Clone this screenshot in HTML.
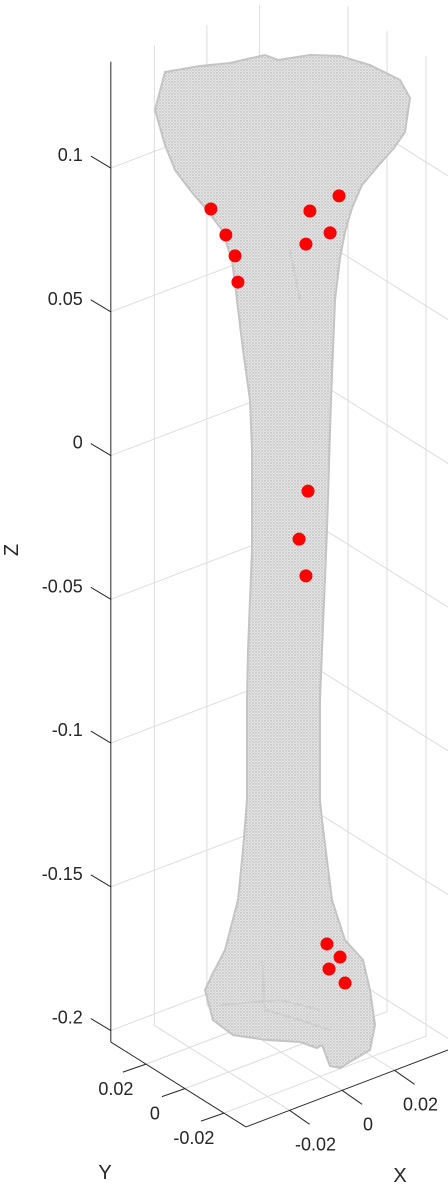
<!DOCTYPE html>
<html><head><meta charset="utf-8">
<style>
html,body{margin:0;padding:0;background:#fff;width:448px;height:1186px;overflow:hidden}
svg{display:block;font-family:"Liberation Sans",sans-serif}
</style></head>
<body>
<svg id="chart" width="448" height="1186" viewBox="0 0 448 1186" xmlns="http://www.w3.org/2000/svg">
<defs>
<pattern id="dots" width="3" height="3" patternUnits="userSpaceOnUse">
<rect width="3" height="3" fill="#e6e6e6"/>
<circle cx="1" cy="1" r="0.7" fill="#a8a8a8"/>
<circle cx="2.5" cy="2.4" r="0.45" fill="#bdbdbd"/>
</pattern>
</defs>
<g id="grid"></g>
<path fill="url(#dots)" stroke="#c4c4c4" stroke-width="2"
d="M165,72 L200,66 L230,63 L265,55 L278,60 L310,55 L340,56 L370,65 L400,80 L410,98 L405,132 L394,148 L378,166 L362,185 L352,208 L345,232 L340,258 L335,300 L331,400 L327,530 L322,650 L320,700 L320,800 L322,820 L332,900 L345,940 L363,960 L370,990 L375,1025 L370,1050 L353,1060 L340,1068 L330,1066 L322,1045 L317,1048 L300,1042 L267,1040 L233,1035 L213,1020 L205,990 L212,975 L225,950 L238,900 L243,850 L247,800 L247,700 L248,650 L252,550 L252,450 L250,400 L243,350 L237,300 L232,260 L222,230 L207,210 L190,190 L175,170 L165,145 L155,110 Z"/>
<path fill="none" stroke="#cfcfcf" stroke-width="2" d="M290,250 L300,300 M262,960 L265,1010 L300,1020 L330,1030 M220,1005 L280,1000 L320,1010"/>
<g id="markers"></g>
<g id="axes"></g>
</svg>
<script>
const zTicks=[0.1,0.05,0,-0.05,-0.1,-0.15,-0.2];
const zTickLabels=["0.1","0.05","0","-0.05","-0.1","-0.15","-0.2"];
const xTicks=[-0.02,0,0.02];
const xTickLabels=["-0.02","0","0.02"];
const yTicks=[0.02,0,-0.02];
const yTickLabels=["0.02","0","-0.02"];
const markerX=[-0.0267,-0.0210,-0.0175,-0.0164,0.0110,0.0221,0.0187,0.0095,0.0103,0.0069,0.0095,0.0175,0.0225,0.0183,0.0244];
const markerY=[0,0,0,0,0,0,0,0,0,0,0,0,0,0,0];
const markerZ=[0.0985,0.0875,0.079,0.0695,0.0847,0.0861,0.0744,0.0737,-0.0125,-0.0280,-0.0417,-0.1725,-0.1788,-0.1815,-0.1885];

const XMIN=-0.0366,XMAX=0.0404,YMIN=-0.0313,YMAX=0.038,ZMIN=-0.204,ZMAX=0.137;
function P(x,y,z){return [281+2625*x-1950*y, 1052-1000*x-1225*y-2875*(z-ZMIN)];}
const NS="http://www.w3.org/2000/svg";
function mk(tag,attrs,parent){const e=document.createElementNS(NS,tag);for(const k in attrs)e.setAttribute(k,attrs[k]);parent.appendChild(e);return e;}
function line(a,b,stroke,w,parent,name){const l=mk('line',{x1:a[0],y1:a[1],x2:b[0],y2:b[1],stroke:stroke,'stroke-width':w},parent);


return l;}
function text(x,y,s,anchor,parent,name,size){const t=mk('text',{x:x,y:y,'text-anchor':anchor,'dominant-baseline':'central','font-size':size||18,fill:'#262626'},parent);t.textContent=s;


return t;}
const grid=document.getElementById('grid');
const G='#dcdcdc';
zTicks.forEach(z=>{
  line(P(XMIN,YMAX,z),P(XMAX,YMAX,z),G,1,grid,'z-gridline-back');
  line(P(XMAX,YMAX,z),P(XMAX,YMIN,z),G,1,grid,'z-gridline-side');
});
xTicks.forEach(x=>{
  line(P(x,YMAX,ZMIN),P(x,YMAX,ZMAX),G,1,grid,'x-gridline-wall');
  line(P(x,YMIN,ZMIN),P(x,YMAX,ZMIN),G,1,grid,'x-gridline-floor');
});
yTicks.forEach(y=>{
  line(P(XMAX,y,ZMIN),P(XMAX,y,ZMAX),G,1,grid,'y-gridline-wall');
  line(P(XMIN,y,ZMIN),P(XMAX,y,ZMIN),G,1,grid,'y-gridline-floor');
});
const mg=document.getElementById('markers');
markerX.forEach((x,i)=>{const p=P(x,markerY[i],markerZ[i]);
  const c=mk('circle',{cx:p[0],cy:p[1],r:6.5,fill:'#ff0000'},mg);
  
  
});
const ax=document.getElementById('axes');
const K='#262626';
line(P(XMIN,YMAX,ZMIN),P(XMIN,YMAX,ZMAX),K,1,ax,'z-axis-line');
line(P(XMIN,YMAX,ZMIN),P(XMIN,YMIN,ZMIN),K,1,ax,'y-axis-line');
line(P(XMIN,YMIN,ZMIN),P(XMAX,YMIN,ZMIN),K,1,ax,'x-axis-line');
zTicks.forEach((z,i)=>{const p=P(XMIN,YMAX,z);
  line(p,[p[0]-20,p[1]-12],K,1,ax,'z-tick');
  text(p[0]-28,p[1]-13,zTickLabels[i],'end',ax,'z-tick-label');
});
yTicks.forEach((y,i)=>{const p=P(XMIN,y,ZMIN);
  line(p,[p[0]-23,p[1]+8],K,1,ax,'y-tick');
  text(p[0]-30,p[1]+25,yTickLabels[i],'middle',ax,'y-tick-label');
});
xTicks.forEach((x,i)=>{const p=P(x,YMIN,ZMIN);
  line(p,[p[0]+20,p[1]+14],K,1,ax,'x-tick');
  text(p[0]+26,p[1]+34,xTickLabels[i],'middle',ax,'x-tick-label');
});
text(105,1173,'Y','middle',ax,'y-axis-title',20);
text(400,1176,'X','middle',ax,'x-axis-title',20);
const zt=text(12,550,'Z','middle',ax,'z-axis-title',20);
zt.setAttribute('transform','rotate(-90 12 550)');
</script>
</body></html>
